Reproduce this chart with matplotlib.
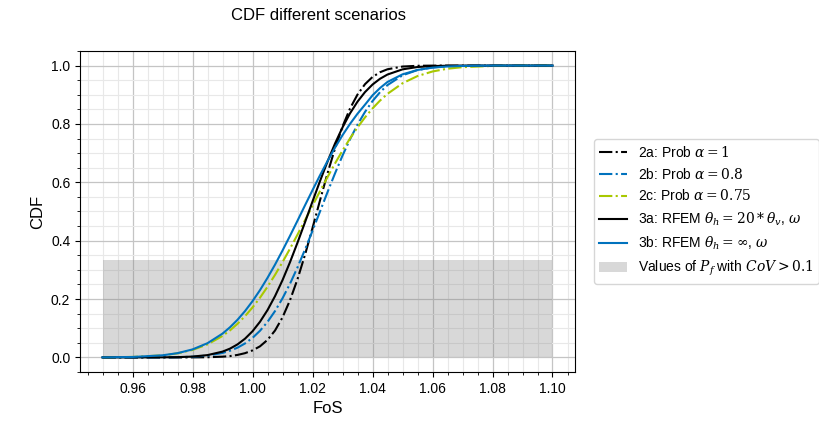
import matplotlib
matplotlib.use("Agg")
import matplotlib.pyplot as plt
from matplotlib.ticker import AutoMinorLocator

plt.rcParams['font.family'] = ['Liberation Sans', 'DejaVu Sans']
plt.rcParams['mathtext.fontset'] = 'dejavuserif'

# Factor of safety sample points (shared by all CDF curves)
fos = [0.950, 0.960, 0.970, 0.975, 0.980, 0.985,
       0.9900, 0.9925, 0.9950, 0.9975, 1.0000, 1.0025, 1.0050, 1.0075,
       1.0100, 1.0125, 1.0150, 1.0175, 1.0200, 1.0225, 1.0250, 1.0275,
       1.0300, 1.0325, 1.0350, 1.0375, 1.0400, 1.0425, 1.0450,
       1.050, 1.055, 1.060, 1.065, 1.070, 1.080, 1.090, 1.100]

cdf_2a = [0.0, 0.0, 0.0, 0.0, 0.0001, 0.0006,
          0.0025, 0.0045, 0.0085, 0.0145, 0.0240, 0.0380, 0.0600, 0.0920,
          0.1370, 0.1960, 0.2680, 0.3516, 0.4432, 0.5380, 0.6305, 0.7160,
          0.7910, 0.8527, 0.9008, 0.9363, 0.9610, 0.9772, 0.9874,
          0.9967, 0.9993, 0.9999, 1.0, 1.0, 1.0, 1.0, 1.0]

cdf_2b = [0.0, 0.0, 0.0002, 0.0008, 0.0023, 0.0062,
          0.0152, 0.0228, 0.0334, 0.0478, 0.0668, 0.0913, 0.1216, 0.1587,
          0.2024, 0.2524, 0.3085, 0.3695, 0.4338, 0.5000, 0.5662, 0.6305,
          0.6915, 0.7476, 0.7976, 0.8413, 0.8784, 0.9087, 0.9332,
          0.9666, 0.9848, 0.9938, 0.9977, 0.9992, 0.9999, 1.0, 1.0]

cdf_2c = [0.0003, 0.0016, 0.0071, 0.0139, 0.0256, 0.0446,
          0.0735, 0.0926, 0.1151, 0.1412, 0.1711, 0.2047, 0.2420, 0.2827,
          0.3264, 0.3726, 0.4207, 0.4701, 0.5199, 0.5695, 0.6179, 0.6646,
          0.7088, 0.7502, 0.7881, 0.8225, 0.8531, 0.8800, 0.9032,
          0.9394, 0.9641, 0.9798, 0.9893, 0.9946, 0.9989, 0.9998, 1.0]

cdf_3a = [0.0, 0.0, 0.0002, 0.0009, 0.0028, 0.0079,
          0.0198, 0.0301, 0.0446, 0.0641, 0.0896, 0.1222, 0.1621, 0.2098,
          0.2647, 0.3264, 0.3932, 0.4630, 0.5343, 0.6042, 0.6710, 0.7327,
          0.7881, 0.8362, 0.8764, 0.9092, 0.9350, 0.9548, 0.9694,
          0.9871, 0.9951, 0.9984, 0.9995, 0.9999, 1.0, 1.0, 1.0]

cdf_3b = [0.0002, 0.0015, 0.0072, 0.0145, 0.0274, 0.0487,
          0.0815, 0.1033, 0.1289, 0.1587, 0.1927, 0.2306, 0.2726, 0.3178,
          0.3662, 0.4166, 0.4685, 0.5211, 0.5730, 0.6240, 0.6727, 0.7187,
          0.7614, 0.8001, 0.8350, 0.8660, 0.8980, 0.9230, 0.9440,
          0.9700, 0.9850, 0.9930, 0.9970, 0.9988, 0.9999, 1.0, 1.0]

# Band of failure probabilities whose coefficient of variation exceeds 0.1
band_fos = [0.95, 1.10]
band_top = 0.335

labels = [r"2a: Prob $\alpha=1$",
          r"2b: Prob $\alpha=0.8$",
          r"2c: Prob $\alpha=0.75$",
          r"3a: RFEM $\theta_h=20*\theta_v$, $\omega$",
          r"3b: RFEM $\theta_h=\infty$, $\omega$",
          r"Values of $P_f$ with $CoV>0.1$"]

black = "black"
blue = "#0072BD"
green = "#A8C800"

fig = plt.figure(figsize=(8.2, 4.23), dpi=100)
ax = fig.add_axes([80 / 820, 51 / 423, 495 / 820, 321 / 423])

ax.plot(fos, cdf_2a, color=black, ls="-.", lw=1.5, label=labels[0], zorder=3)
ax.plot(fos, cdf_2b, color=blue, ls="-.", lw=1.5, label=labels[1], zorder=3)
ax.plot(fos, cdf_2c, color=green, ls="-.", lw=1.5, label=labels[2], zorder=3)
ax.plot(fos, cdf_3a, color=black, ls="-", lw=1.5, label=labels[3], zorder=3)
ax.plot(fos, cdf_3b, color=blue, ls="-", lw=1.5, label=labels[4], zorder=3)
ax.fill_between(band_fos, 0, band_top, color="grey", alpha=0.3, lw=0,
                label=labels[5], zorder=1)

ax.xaxis.set_minor_locator(AutoMinorLocator())
ax.yaxis.set_minor_locator(AutoMinorLocator())
ax.grid(which="major", color="#c4c4c4", lw=0.9, zorder=0)
ax.grid(which="minor", color="#e8e8e8", lw=0.8, zorder=0)
ax.set_axisbelow(True)
ax.tick_params(labelsize=10)

ax.set_xlabel("FoS", fontsize=12)
ax.set_ylabel("CDF", fontsize=12)
fig.text(319 / 820, 0.98, "CDF different scenarios", ha="center", va="top",
         fontsize=12)

ax.legend(loc="center left", bbox_to_anchor=(1.038, 0.5), borderaxespad=0,
          fontsize=10)

fig.savefig("out.png", dpi=100)
